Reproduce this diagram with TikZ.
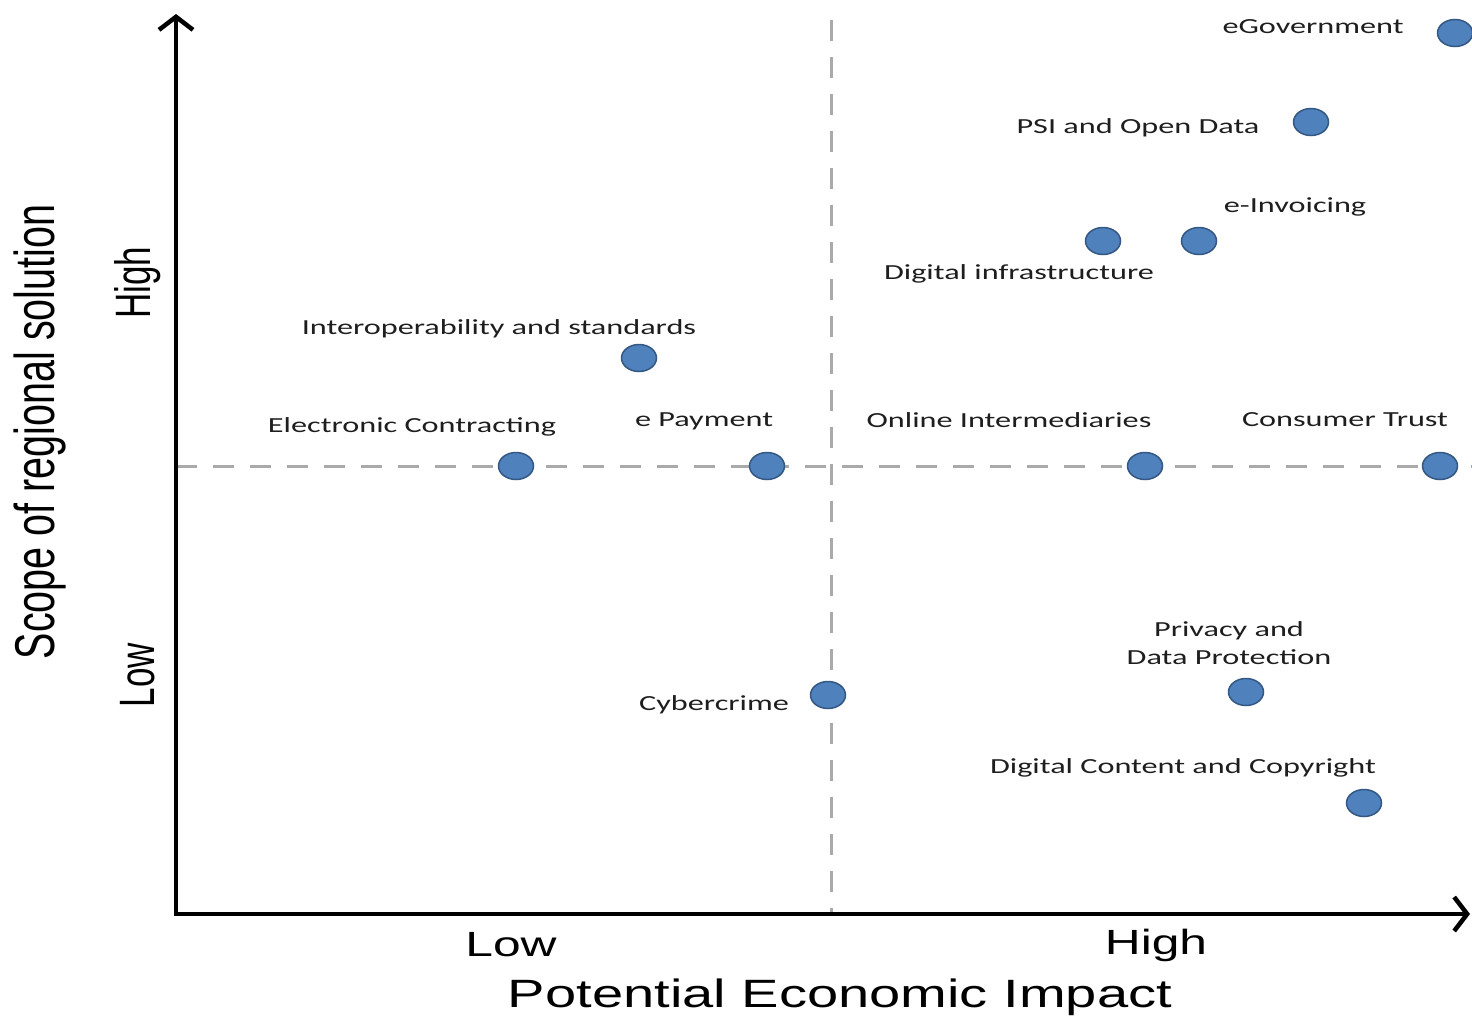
\documentclass[tikz,border=0pt]{standalone}
\usepackage{fontspec}
\newfontfamily\lblfont[FakeStretch=1.5]{Carlito}
\newfontfamily\axfont[FakeStretch=1.42]{Liberation Sans}
\newfontfamily\axrotfont{Liberation Sans}
\usetikzlibrary{positioning,arrows.meta,shapes.geometric}
\definecolor{dotblue}{RGB}{79,129,189}
\definecolor{dotedge}{RGB}{52,88,132}
\definecolor{dashgray}{RGB}{170,170,170}
\definecolor{lblgray}{RGB}{30,30,30}

\begin{document}
\begin{tikzpicture}[x=1pt,y=-1pt,
  issue/.style={ellipse,draw=dotedge,fill=dotblue,line width=1.5pt,minimum width=35pt,minimum height=27pt,inner sep=0pt},
  lbl/.style={font=\lblfont\fontsize{21.5}{28}\selectfont,text=lblgray,inner sep=0pt,align=center},
  tick/.style={font=\axfont\fontsize{35}{40}\selectfont,inner sep=0pt},
  rtick/.style={font=\axrotfont\fontsize{35}{40}\selectfont,inner sep=0pt,rotate=90},
  axis/.style={line width=4.5pt,{Straight Barb[length=13pt,width=34pt]}-{Straight Barb[length=13pt,width=34pt]}},
  split/.style={dashgray,line width=3pt,dash pattern=on 21pt off 16pt}]

  \useasboundingbox (0,0) rectangle (1472,1017);

  \coordinate (O) at (176,914);
  \coordinate (Y) at (176,14);
  \coordinate (X) at (1470,914);
  \coordinate (HL) at (176,466);
  \coordinate (HR) at (1472,466);
  \coordinate (VT) at (831,20);
  \coordinate (VB) at (831,912);

  \draw[split] (HL) -- (HR);
  \draw[split] (VT) -- (VB);
  \draw[axis] (Y) -- (O) -- (X);

  % issues
  \node(egov)[issue] at (1455,33) {};
  \node(psi)[issue] at (1311,122) {};
  \node(einv)[issue] at (1199,241) {};
  \node(infra)[issue] at (1103,241) {};
  \node(interop)[issue] at (639,358) {};
  \node(contr)[issue] at (516,466) {};
  \node(epay)[issue] at (767,466) {};
  \node(online)[issue] at (1145,466) {};
  \node(trust)[issue] at (1440,466) {};
  \node(cyber)[issue] at (828,695) {};
  \node(priv)[issue] at (1246,692) {};
  \node(copy)[issue] at (1364,803) {};

  \node(egovL)[lbl] at (1313,27) {eGovernment};
  \node(psiL)[lbl] at (1138,128) {PSI and Open Data};
  \node(einvL)[lbl] at (1295,207) {e-Invoicing};
  \node(infraL)[lbl] at (1019,274) {Digital infrastructure};
  \node(interopL)[lbl] at (499,329) {Interoperability and standards};
  \node(contrL)[lbl] at (412,427) {Electronic Contracting};
  \node(epayL)[lbl] at (704,421) {e Payment};
  \node(onlineL)[lbl] at (1009,420) {Online Intermediaries};
  \node(trustL)[lbl] at (1345,420) {Consumer Trust};
  \node(cyberL)[lbl] at (714,705) {Cybercrime};
  \node(privL)[lbl] at (1229,643) {Privacy and\\Data Protection};
  \node(copyL)[lbl] at (1183,768) {Digital Content and Copyright};

  % axes text
  \node(xlow)[tick] at (511,945) {Low};
  \node(xhigh)[tick] at (1156,945) {High};
  \node(xtitle)[tick,font=\axfont\fontsize{39.5}{44}\selectfont] at (840,997) {Potential Economic Impact};
  \node(ylow)[rtick] at (138,675) {\scalebox{1}[1.42]{Low}};
  \node(yhigh)[rtick] at (138,283) {\scalebox{1}[1.42]{High}};
  \node(ytitle)[rtick,font=\axrotfont\fontsize{39.5}{44}\selectfont] at (40,432) {\scalebox{1}[1.42]{Scope of regional solution}};
\end{tikzpicture}
\end{document}
